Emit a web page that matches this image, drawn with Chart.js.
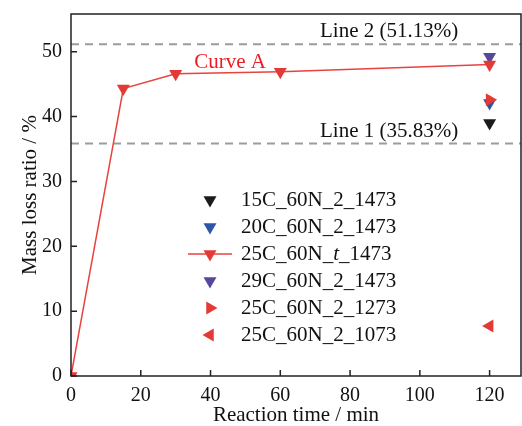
<!DOCTYPE html>
<html>
<head>
<meta charset="utf-8">
<title>Mass loss ratio vs reaction time</title>
<script src="https://cdn.jsdelivr.net/npm/chart.js@4.4.1/dist/chart.umd.min.js"></script>
<style>
  html, body { margin: 0; padding: 0; background: #fff; }
</style>
</head>
<body>
<canvas id="lossChart" width="522" height="426"></canvas>
<script>
// 25C_60N_t_1473: mass loss over reaction time
const curveTimes = [0, 15, 30, 60, 120];
const curveLoss = [0, 44.3, 46.6, 46.9, 48.0];

// single runs, all taken at 120 min
const endTime = 120;
const loss15C = 39.0;
const loss20C = 42.1;
const loss29C = 49.2;
const loss1273 = 42.6;
const loss1073 = 7.7;

const seriesLabels = ['15C_60N_2_1473', '20C_60N_2_1473', '25C_60N_t_1473',
                      '29C_60N_2_1473', '25C_60N_2_1273', '25C_60N_2_1073'];

// theoretical reference levels
const refLevels = [35.83, 51.13];
const refNames = ['Line 1', 'Line 2'];

const xTicks = [0, 20, 40, 60, 80, 100, 120];
const yTicks = [0, 10, 20, 30, 40, 50];

const SERIF = "'Liberation Serif', 'Times New Roman', serif";
const BLACK = '#1b1b1b';
const BLUE = '#2e56a6';
const RED = '#e33a35';
const PURPLE = '#56489a';

const marker = (color, rotation) => ({
  pointStyle: 'triangle',
  rotation: rotation,
  pointRadius: 7.5,
  pointBorderWidth: 0,
  backgroundColor: color,
  borderColor: color,
  pointBackgroundColor: color
});

const single = (label, value, color, rotation, order) => Object.assign({
  label: label,
  data: [{ x: endTime, y: value }],
  showLine: false,
  order: order
}, marker(color, rotation));

const datasets = [
  single(seriesLabels[0], loss15C, BLACK, 180, 3),
  single(seriesLabels[1], loss20C, BLUE, 180, 3),
  Object.assign({
    label: seriesLabels[2],
    data: curveTimes.map((t, i) => ({ x: t, y: curveLoss[i] })),
    showLine: true,
    borderWidth: 1.5,
    tension: 0,
    order: 1
  }, marker(RED, 180), { borderColor: '#e8423e' }),
  single(seriesLabels[3], loss29C, PURPLE, 180, 2),
  single(seriesLabels[4], loss1273, RED, 90, 0),
  single(seriesLabels[5], loss1073, RED, -90, 0)
];

// keep the plot box fixed: no extra room for overhanging labels
const noPadding = s => {
  s.paddingLeft = 0;
  s.paddingRight = 0;
  s.paddingTop = 0;
  s.paddingBottom = 0;
};

// draws the frame, inward ticks, dashed levels, text notes and the legend
const decorations = {
  id: 'decorations',
  beforeDatasetsDraw(chart) {
    const { ctx, chartArea: a, scales: { y } } = chart;
    ctx.save();
    ctx.strokeStyle = '#9c9c9c';
    ctx.lineWidth = 2;
    ctx.setLineDash([8, 6]);
    refLevels.forEach(v => {
      const py = y.getPixelForValue(v);
      ctx.beginPath();
      ctx.moveTo(a.left, py);
      ctx.lineTo(a.right, py);
      ctx.stroke();
    });
    ctx.restore();
  },
  afterDatasetsDraw(chart) {
    const { ctx, chartArea: a, scales: { x, y } } = chart;
    ctx.save();

    // axis box
    ctx.strokeStyle = '#222';
    ctx.lineWidth = 1.5;
    ctx.strokeRect(a.left, a.top, a.right - a.left, a.bottom - a.top);

    // tick marks pointing into the plot
    ctx.beginPath();
    xTicks.forEach(v => {
      const px = x.getPixelForValue(v);
      ctx.moveTo(px, a.bottom);
      ctx.lineTo(px, a.bottom - 6);
    });
    yTicks.forEach(v => {
      const py = y.getPixelForValue(v);
      ctx.moveTo(a.left, py);
      ctx.lineTo(a.left + 6, py);
    });
    ctx.stroke();

    // level captions
    ctx.font = '21px ' + SERIF;
    ctx.fillStyle = '#111';
    ctx.textAlign = 'center';
    ctx.textBaseline = 'alphabetic';
    refLevels.forEach((v, i) => {
      const txt = refNames[i] + ' (' + v.toFixed(2) + '%)';
      ctx.fillText(txt, x.getPixelForValue(91.2), y.getPixelForValue(v) - 7);
    });

    ctx.fillStyle = '#ee1c24';
    ctx.fillText('Curve A', x.getPixelForValue(45.6), y.getPixelForValue(47.5));

    // legend
    const lx = a.left + 139;
    const tx = a.left + 170;
    const top = a.top + 186;
    const rowH = 27;
    ctx.textAlign = 'left';
    ctx.textBaseline = 'middle';
    datasets.forEach((ds, i) => {
      const ry = top + i * rowH;
      if (ds.showLine) {
        ctx.strokeStyle = ds.borderColor;
        ctx.lineWidth = 1.5;
        ctx.beginPath();
        ctx.moveTo(lx - 22, ry);
        ctx.lineTo(lx + 22, ry);
        ctx.stroke();
      }
      ctx.fillStyle = ds.pointBackgroundColor;
      Chart.helpers.drawPoint(ctx, {
        pointStyle: 'triangle',
        rotation: ds.rotation,
        radius: 7.5,
        borderWidth: 0
      }, lx, ry);

      ctx.fillStyle = '#111';
      const parts = ds.label.split('_');
      let cx = tx;
      parts.forEach((p, k) => {
        const italic = p === 't';
        ctx.font = (italic ? 'italic ' : '') + '21px ' + SERIF;
        ctx.fillText(p, cx, ry);
        cx += ctx.measureText(p).width;
        if (k < parts.length - 1) {
          ctx.font = '21px ' + SERIF;
          ctx.fillText('_', cx, ry);
          cx += ctx.measureText('_').width;
        }
      });
    });
    ctx.restore();
  }
};

new Chart(document.getElementById('lossChart'), {
  type: 'scatter',
  data: { datasets: datasets },
  options: {
    responsive: false,
    animation: false,
    layout: {
      autoPadding: false,
      padding: { top: 14, right: 1, left: 0, bottom: 0 }
    },
    plugins: {
      legend: { display: false },
      tooltip: { enabled: false }
    },
    scales: {
      x: {
        type: 'linear',
        min: 0,
        max: 129,
        afterBuildTicks: s => { s.ticks = xTicks.map(v => ({ value: v })); },
        afterFit: s => { s.height = 50; noPadding(s); },
        grid: { display: false, drawTicks: false },
        border: { display: false },
        ticks: {
          color: '#111',
          font: { family: SERIF, size: 20 },
          padding: 8,
          maxRotation: 0
        },
        title: {
          display: true,
          text: 'Reaction time / min',
          color: '#111',
          font: { family: SERIF, size: 21, lineHeight: 1.0 },
          padding: { top: 0, bottom: 0 }
        }
      },
      y: {
        type: 'linear',
        min: 0,
        max: 55.8,
        afterBuildTicks: s => { s.ticks = yTicks.map(v => ({ value: v })); },
        afterFit: s => { s.width = 71; noPadding(s); },
        grid: { display: false, drawTicks: false },
        border: { display: false },
        ticks: {
          color: '#111',
          font: { family: SERIF, size: 20 },
          padding: 9
        },
        title: {
          display: true,
          text: 'Mass loss ratio / %',
          color: '#111',
          font: { family: SERIF, size: 21 },
          padding: { top: 18, bottom: 0 }
        }
      }
    }
  },
  plugins: [decorations]
});
</script>
</body>
</html>
